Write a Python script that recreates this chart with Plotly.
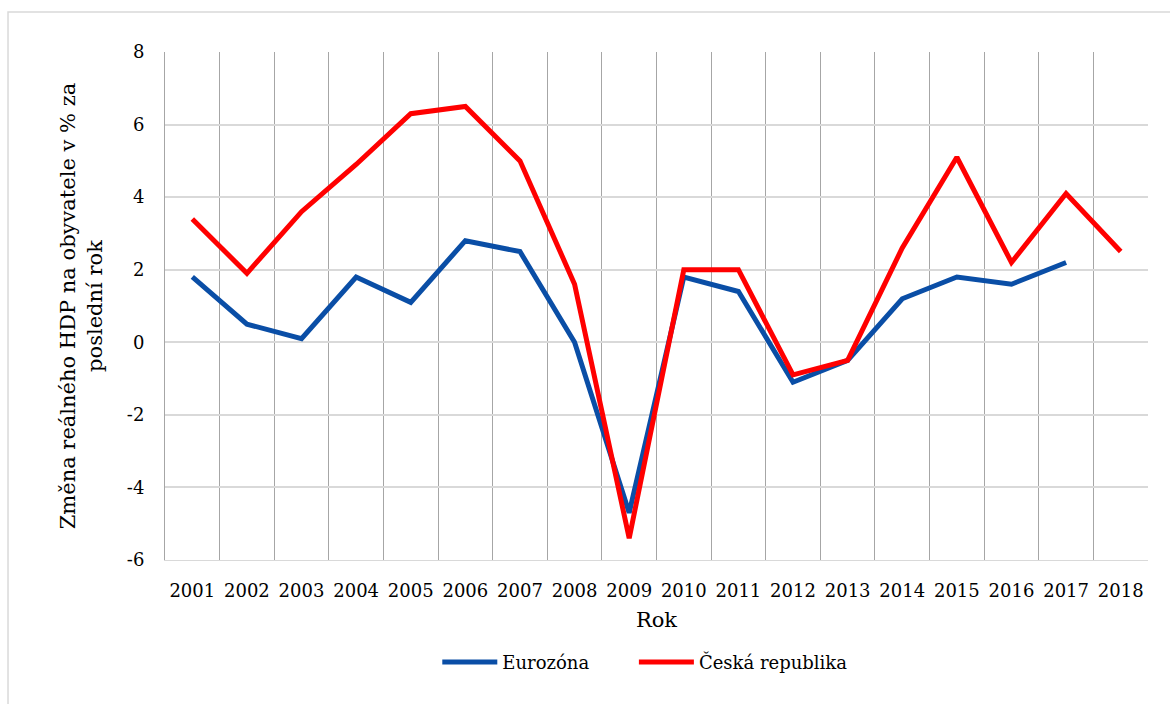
import plotly.graph_objects as go

years = [str(y) for y in range(2001, 2019)]
eurozona = [1.8, 0.5, 0.1, 1.8, 1.1, 2.8, 2.5, 0.0, -4.7, 1.8, 1.4, -1.1, -0.5, 1.2, 1.8, 1.6, 2.2, None]
cesko = [3.4, 1.9, 3.6, 4.9, 6.3, 6.5, 5.0, 1.6, -5.4, 2.0, 2.0, -0.9, -0.5, 2.6, 5.1, 2.2, 4.1, 2.5]
y_ticks = [-6, -4, -2, 0, 2, 4, 6, 8]
y_tick_text = ["-6", "-4", "-2", "0", "2", "4", "6", "8"]

FONT = "DejaVu Serif"

fig = go.Figure()
fig.add_trace(go.Scatter(x=years, y=eurozona, mode="lines", name="Eurozóna",
                         line=dict(color="#0a4ea6", width=5), legend="legend"))
fig.add_trace(go.Scatter(x=years, y=cesko, mode="lines", name="Česká republika",
                         line=dict(color="#ff0000", width=5), legend="legend2"))

leg_common = dict(orientation="h", y=-0.165, yanchor="top", xanchor="left",
                  font=dict(size=18, family=FONT), itemwidth=55,
                  bgcolor="rgba(0,0,0,0)")

fig.update_layout(
    width=1170, height=704,
    margin=dict(l=165, r=22, t=52, b=144),
    paper_bgcolor="white", plot_bgcolor="white",
    font=dict(family=FONT, color="black", size=18),
    showlegend=True,
    legend=dict(x=0.277, **leg_common),
    legend2=dict(x=0.477, **leg_common),
    xaxis=dict(type="category", tickson="boundaries", range=[-0.5, 17.5],
               showgrid=True, gridcolor="#a6a6a6", gridwidth=1,
               showline=True, linecolor="#d9d9d9", linewidth=1, mirror=False,
               ticks="", ticklabelstandoff=14, tickfont=dict(size=18, family=FONT),
               title=dict(text="Rok", font=dict(size=21, family=FONT), standoff=12),
               zeroline=False),
    yaxis=dict(range=[-6, 8], tickvals=y_ticks, ticktext=y_tick_text, showgrid=True,
               gridcolor="#d9d9d9", gridwidth=1.5, zeroline=False, showline=True,
               linecolor="#a6a6a6", linewidth=1, ticks="", ticklabelstandoff=16,
               tickfont=dict(size=18, family=FONT),
               title=dict(text="Změna reálného HDP na obyvatele v % za<br>poslední rok",
                          font=dict(size=21, family=FONT), standoff=18)),
)
fig.add_shape(type="rect", xref="paper", yref="paper", x0=-0.1597, x1=1.05, y0=-0.3, y1=1.0787,
              line=dict(color="#d9d9d9", width=1.5), fillcolor="rgba(0,0,0,0)", layer="below")

fig.write_html("out.html")
